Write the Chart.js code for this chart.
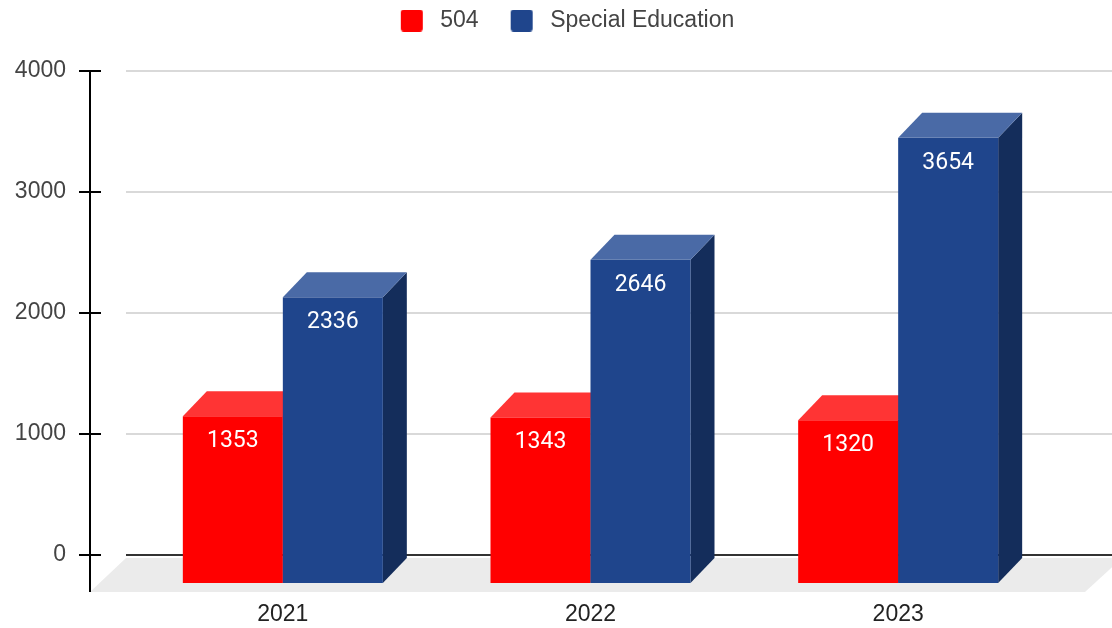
<!DOCTYPE html>
<html>
<head>
<meta charset="utf-8">
<script src="https://cdn.jsdelivr.net/npm/chart.js@4.4.1/dist/chart.umd.min.js"></script>
<style>
  html, body { margin: 0; padding: 0; background: #fff; }
  #wrap { width: 1112px; height: 628px; }
</style>
</head>
<body>
<div id="wrap"><canvas id="barchart" width="1112" height="628"></canvas></div>
<script>
var years = ['2021', '2022', '2023'];
var plan504 = [1353, 1343, 1320];
var specialEd = [2336, 2646, 3654];
var yTicks = [0, 1000, 2000, 3000, 4000];

// front / top / side shading for each series
var redFaces = { front: '#ff0000', top: '#ff3434', side: '#b80000' };
var blueFaces = { front: '#1f458c', top: '#4a6aa6', side: '#142d5b' };

var DEPTH_X = 24;
var DEPTH_Y = 25;
var AXIS_X = 90;
var GRID_LEFT = 126;
var SWATCH_LEAD = 23;
var SWATCH_W = 28;

// legend swatch with some empty room in front of it so items sit further apart
function legendSwatch(color)
{
    var c = document.createElement('canvas');
    c.width = SWATCH_LEAD + SWATCH_W;
    c.height = 22;
    var g = c.getContext('2d');
    g.fillStyle = color;
    g.beginPath();
    if (g.roundRect) {
        g.roundRect(SWATCH_LEAD, 0, 22, 22, 3);
    } else {
        g.rect(SWATCH_LEAD, 0, 22, 22);
    }
    g.fill();
    return c;
}

function poly(ctx, pts, color)
{
    ctx.fillStyle = color;
    ctx.beginPath();
    ctx.moveTo(pts[0][0], pts[0][1]);
    for (var i = 1; i < pts.length; i++) {
        ctx.lineTo(pts[i][0], pts[i][1]);
    }
    ctx.closePath();
    ctx.fill();
}

function drawBox(ctx, el, faces)
{
    var left = el.x - el.width / 2;
    var right = el.x + el.width / 2;
    var top = el.y;
    var base = el.base + 3;

    // right side
    poly(ctx, [[right - DEPTH_X, top + DEPTH_Y], [right, top], [right, base], [right - DEPTH_X, base + DEPTH_Y]], faces.side);
    // top
    poly(ctx, [[left - DEPTH_X, top + DEPTH_Y], [left, top], [right, top], [right - DEPTH_X, top + DEPTH_Y]], faces.top);
    // front
    ctx.fillStyle = faces.front;
    ctx.fillRect(left - DEPTH_X, top + DEPTH_Y, el.width, base - top);
}

var box3d = {
    id: 'box3d',
    beforeDatasetsDraw: function(chart) {
        var ctx = chart.ctx;
        var yScale = chart.scales.y;
        var area = chart.chartArea;
        var zeroY = yScale.getPixelForValue(0);
        var floorTop = zeroY + 3;
        var floorBottom = zeroY + 37;

        ctx.save();

        // floor
        poly(ctx, [[GRID_LEFT, floorTop], [chart.width + 10, floorTop], [chart.width - 27, floorBottom], [AXIS_X, floorBottom]], '#ebebeb');

        // gridlines
        yScale.ticks.forEach(function(t) {
            var py = Math.round(yScale.getPixelForValue(t.value));
            ctx.beginPath();
            if (t.value === 0) {
                ctx.strokeStyle = '#333333';
                ctx.lineWidth = 2;
            } else {
                ctx.strokeStyle = '#cccccc';
                ctx.lineWidth = 1.5;
            }
            ctx.moveTo(GRID_LEFT, py);
            ctx.lineTo(chart.width, py);
            ctx.stroke();

            // tick mark on the axis
            ctx.beginPath();
            ctx.strokeStyle = '#000000';
            ctx.lineWidth = 2;
            ctx.moveTo(AXIS_X - 11, py);
            ctx.lineTo(AXIS_X + 11, py);
            ctx.stroke();
        });

        // vertical axis
        ctx.beginPath();
        ctx.strokeStyle = '#000000';
        ctx.lineWidth = 2;
        ctx.moveTo(AXIS_X, area.top);
        ctx.lineTo(AXIS_X, floorBottom);
        ctx.stroke();

        // boxes, left to right
        var metas = [chart.getDatasetMeta(0), chart.getDatasetMeta(1)];
        var faces = [redFaces, blueFaces];
        for (var j = 0; j < years.length; j++) {
            for (var i = 0; i < metas.length; i++) {
                drawBox(ctx, metas[i].data[j], faces[i]);
            }
        }

        // value labels on the front faces
        ctx.fillStyle = '#ffffff';
        ctx.font = '23px Roboto';
        ctx.textAlign = 'center';
        ctx.textBaseline = 'middle';
        for (var i = 0; i < metas.length; i++) {
            var values = chart.data.datasets[i].data;
            for (var j = 0; j < values.length; j++) {
                var el = metas[i].data[j];
                ctx.fillText(String(values[j]), el.x - DEPTH_X, el.y + DEPTH_Y + 25);
            }
        }

        ctx.restore();
        return false;
    }
};

var legendFit = {
    id: 'legendFit',
    beforeInit: function(chart) {
        var fit = chart.legend.fit;
        chart.legend.fit = function() {
            fit.call(this);
            this.height = 71;
        };
    }
};

Chart.defaults.font.family = "'Liberation Sans', Arial, sans-serif";

var ctx = document.getElementById('barchart').getContext('2d');
var chart = new Chart(ctx, {
    type: 'bar',
    data: {
        labels: years,
        datasets: [
            { label: '504', data: plan504, backgroundColor: redFaces.front, barThickness: 100 },
            { label: 'Special Education', data: specialEd, backgroundColor: blueFaces.front, barThickness: 100 }
        ]
    },
    options: {
        responsive: false,
        animation: false,
        devicePixelRatio: 1,
        layout: { padding: 0 },
        plugins: {
            tooltip: { enabled: false },
            legend: {
                position: 'top',
                labels: {
                    usePointStyle: true,
                    pointStyleWidth: SWATCH_LEAD + SWATCH_W,
                    padding: 9,
                    color: '#444444',
                    font: { size: 23 },
                    generateLabels: function(chart) {
                        var items = Chart.defaults.plugins.legend.labels.generateLabels(chart);
                        items.forEach(function(item, k) {
                            item.pointStyle = legendSwatch(k === 0 ? redFaces.front : blueFaces.front);
                        });
                        return items;
                    }
                }
            }
        },
        scales: {
            x: {
                grid: { display: false, drawTicks: false },
                border: { display: false },
                ticks: { padding: 46, labelOffset: -DEPTH_X, color: '#222222', font: { size: 23 } },
                afterFit: function(scale) { scale.height = 73; }
            },
            y: {
                min: 0,
                max: 4000,
                ticks: {
                    padding: 87,
                    stepSize: 1000,
                    color: '#444444',
                    font: { size: 23 },
                    callback: function(value) { return yTicks.indexOf(value) >= 0 ? String(value) : ''; }
                },
                grid: { display: false, drawTicks: false },
                border: { display: false },
                afterFit: function(scale) {
                    scale.width = 153;
                    scale.paddingTop = 0;
                    scale.paddingBottom = 0;
                }
            },
            // empty strip on the right edge
            edge: {
                type: 'linear',
                position: 'right',
                display: true,
                grid: { display: false, drawTicks: false },
                border: { display: false },
                ticks: { display: false },
                afterFit: function(scale) { scale.width = 36; }
            }
        }
    },
    plugins: [legendFit, box3d]
});
</script>
</body>
</html>
